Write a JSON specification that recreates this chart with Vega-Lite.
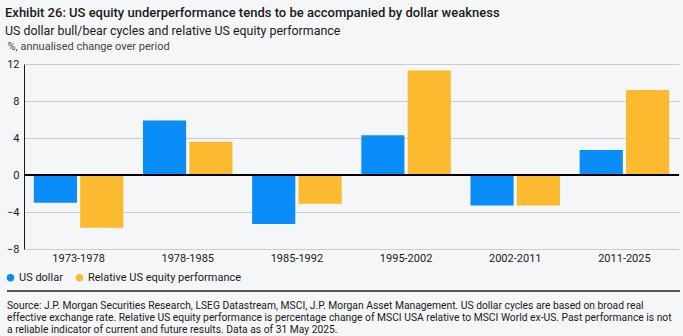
{
  "$schema": "https://vega.github.io/schema/vega-lite/v6.json",
  "background": "#F5F6F8",
  "padding": {"left": 5, "top": 6, "right": 3, "bottom": 0},
  "title": {
    "text": "Exhibit 26: US equity underperformance tends to be accompanied by dollar weakness",
    "subtitle": "US dollar bull/bear cycles and relative US equity performance",
    "anchor": "start",
    "frame": "bounds",
    "font": "Roboto",
    "fontSize": 13,
    "fontWeight": 500,
    "color": "#1a1a1a",
    "subtitleFont": "Roboto",
    "subtitleFontSize": 12.4,
    "subtitleColor": "#1a1a1a",
    "subtitlePadding": 5,
    "offset": 3
  },
  "datasets": {
    "bars": [
      {"period": "1973-1978", "series": "US dollar", "value": -3.0},
      {"period": "1973-1978", "series": "Relative US equity performance", "value": -5.7},
      {"period": "1978-1985", "series": "US dollar", "value": 5.9},
      {"period": "1978-1985", "series": "Relative US equity performance", "value": 3.6},
      {"period": "1985-1992", "series": "US dollar", "value": -5.3},
      {"period": "1985-1992", "series": "Relative US equity performance", "value": -3.1},
      {"period": "1995-2002", "series": "US dollar", "value": 4.3},
      {"period": "1995-2002", "series": "Relative US equity performance", "value": 11.3},
      {"period": "2002-2011", "series": "US dollar", "value": -3.3},
      {"period": "2002-2011", "series": "Relative US equity performance", "value": -3.3},
      {"period": "2011-2025", "series": "US dollar", "value": 2.7},
      {"period": "2011-2025", "series": "Relative US equity performance", "value": 9.2}
    ],
    "footer": [
      {"line": 0, "text": "Source: J.P. Morgan Securities Research, LSEG Datastream, MSCI, J.P. Morgan Asset Management. US dollar cycles are based on broad real"},
      {"line": 1, "text": "effective exchange rate. Relative US equity performance is percentage change of MSCI USA relative to MSCI World ex-US. Past performance is not"},
      {"line": 2, "text": "a reliable indicator of current and future results. Data as of 31 May 2025."}
    ]
  },
  "spacing": 7,
  "resolve": {"scale": {"color": "independent", "x": "independent", "y": "independent"}, "legend": {"color": "independent"}},
  "vconcat": [
    {
      "width": 655,
      "height": 185,
      "data": {"name": "bars"},
      "layer": [
        {
          "mark": {"type": "bar"},
          "encoding": {
            "x": {
              "field": "period",
              "type": "nominal",
              "sort": ["1973-1978", "1978-1985", "1985-1992", "1995-2002", "2002-2011", "2011-2025"],
              "scale": {"paddingInner": 0.18, "paddingOuter": 0.09},
              "axis": {"title": null, "labelAngle": 0, "domain": false, "ticks": false, "labelPadding": 3, "labelFontSize": 11, "labelFont": "Roboto", "labelColor": "#1a1a1a"}
            },
            "xOffset": {
              "field": "series",
              "type": "nominal",
              "sort": ["US dollar", "Relative US equity performance"],
              "scale": {"paddingInner": 0.07}
            },
            "y": {
              "field": "value",
              "type": "quantitative",
              "scale": {"domain": [-8, 12], "nice": false},
              "axis": {
                "values": [-8, -4, 0, 4, 8, 12],
                "tickCount": 10,
                "labelOverlap": false,
                "labelFlush": false,
                "title": "%, annualised change over period",
                "titleAngle": 0,
                "titleAlign": "left",
                "titleBaseline": "middle",
                "titleX": -17,
                "titleY": -18,
                "titleFont": "Roboto",
                "titleFontSize": 11,
                "titleFontWeight": "normal",
                "titleColor": "#444",
                "domain": true,
                "domainColor": "#1a1a1a",
                "ticks": false,
                "labelPadding": 5,
                "labelFont": "Roboto",
                "labelFontSize": 11,
                "labelColor": "#1a1a1a",
                "gridColor": "#cccccc"
              }
            },
            "color": {
              "field": "series",
              "type": "nominal",
              "sort": ["US dollar", "Relative US equity performance"],
              "scale": {"domain": ["US dollar", "Relative US equity performance"], "range": ["#0A8DF8", "#FBBA30"]},
              "legend": {
                "title": null,
                "orient": "none",
                "direction": "horizontal",
                "legendX": -19,
                "legendY": 208,
                "padding": 0,
                "symbolType": "circle",
                "symbolSize": 55,
                "labelFont": "Roboto",
                "labelFontSize": 11,
                "labelColor": "#1a1a1a",
                "columnPadding": 11,
                "labelOffset": 3
              }
            }
          }
        },
        {
          "mark": {"type": "rule", "color": "#000000", "strokeWidth": 1.5},
          "encoding": {"y": {"datum": 0}}
        }
      ]
    },
    {
      "width": 655,
      "height": 39,
      "data": {"name": "footer"},
      "layer": [
        {
          "mark": {"type": "rule", "color": "#555555", "strokeWidth": 1.5, "clip": false},
          "encoding": {
            "x": {"datum": -17, "type": "quantitative", "scale": {"domain": [0, 655]}, "axis": null},
            "x2": {"datum": 656},
            "y": {"datum": -1.25, "type": "quantitative", "scale": {"domain": [-1.25, 2], "reverse": true}, "axis": null}
          }
        },
        {
          "mark": {"type": "text", "align": "left", "baseline": "middle", "font": "Roboto", "fontSize": 10.3, "color": "#1a1a1a", "clip": false},
          "encoding": {
            "x": {"datum": -17, "type": "quantitative", "scale": {"domain": [0, 655]}, "axis": null},
            "y": {"field": "line", "type": "quantitative", "scale": {"domain": [-1.25, 2], "reverse": true}, "axis": null},
            "text": {"field": "text"}
          }
        }
      ]
    }
  ],
  "config": {
    "view": {"stroke": null},
    "axis": {"gridWidth": 1}
  }
}
